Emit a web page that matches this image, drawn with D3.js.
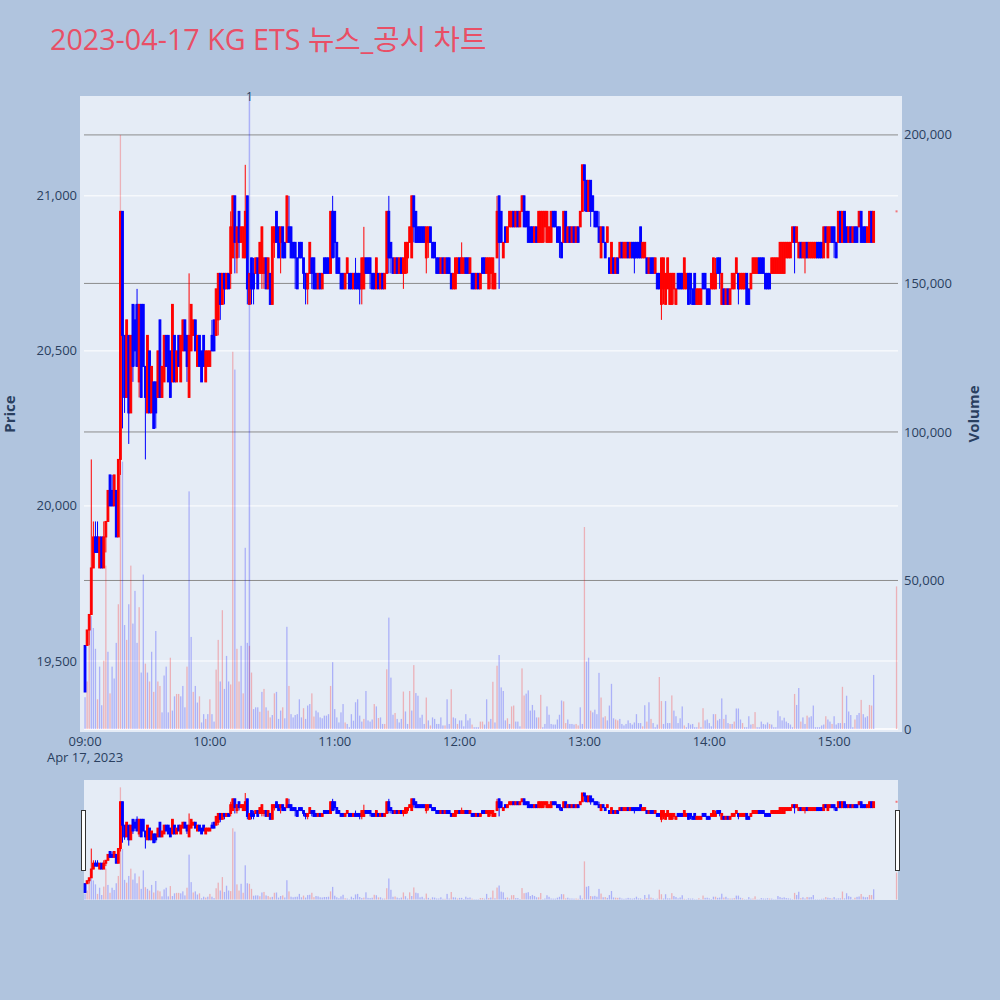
<!DOCTYPE html>
<html>
<head>
<meta charset="utf-8">
<title>KG ETS 뉴스_공시 차트</title>
<script src="https://cdn.jsdelivr.net/npm/d3@7"></script>
<style>
  body { margin: 0; background: #b0c4de; }
  text { font-family: "Open Sans", "Noto Sans CJK KR", sans-serif; }
</style>
</head>
<body>
<div id="chart"></div>
<script>
const tradeDate = "2023-04-17";
const startTime = "09:00";

// one-minute candles 09:00 .. 15:19 (index = minutes after 09:00)
const opens = [
  19550,19550,19600,19650,19800,19900,19900,19800,19900,19800,
  19900,19950,20100,20050,20000,20050,19900,20150,20950,20550,
  20350,20550,20300,20650,20600,20650,20400,20650,20650,20450,
  20300,20500,20300,20400,20400,20350,20600,20350,20400,20550,
  20550,20500,20400,20550,20400,20550,20400,20500,20600,20550,
  20350,20500,20550,20600,20450,20550,20500,20550,20400,20450,
  20450,20550,20600,20550,20600,20750,20650,20750,20700,20750,
  20750,20800,21000,20800,20950,20850,20800,20800,21000,20650,
  20800,20750,20750,20800,20750,20750,20750,20800,20700,20750,
  20650,20850,20950,20900,20850,20900,20850,20850,20900,20900,
  20850,20850,20800,20850,20850,20800,20750,20700,20750,20800,
  20800,20750,20700,20750,20700,20800,20800,20800,20750,20950,
  20950,20850,20800,20750,20750,20700,20750,20750,20750,20700,
  20750,20750,20750,20700,20700,20800,20800,20800,20750,20750,
  20700,20750,20700,20750,20700,20750,20950,20850,20800,20750,
  20800,20750,20800,20750,20750,20800,20850,20800,21000,20950,
  20900,20900,20900,20900,20800,20850,20900,20850,20850,20800,
  20800,20750,20800,20750,20800,20800,20750,20700,20700,20750,
  20800,20750,20750,20800,20800,20750,20750,20750,20700,20750,
  20700,20800,20800,20750,20700,20750,20700,20700,20800,21000,
  20950,20800,20900,20850,20900,20900,20950,20900,20950,20900,
  20950,21000,20950,20950,20900,20900,20850,20900,20850,20850,
  20850,20900,20850,20850,20850,20950,20950,20900,20900,20850,
  20850,20950,20850,20900,20850,20900,20850,20900,20900,20950,
  21100,21050,20950,21050,21000,20950,20950,20900,20800,20900,
  20850,20850,20800,20750,20800,20750,20800,20800,20850,20800,
  20800,20850,20800,20850,20850,20850,20850,20900,20800,20800,
  20800,20750,20800,20800,20750,20750,20750,20650,20700,20650,
  20700,20650,20650,20700,20650,20750,20750,20750,20700,20700,
  20750,20750,20700,20750,20650,20650,20650,20750,20750,20700,
  20700,20700,20700,20700,20800,20800,20650,20700,20650,20700,
  20650,20700,20700,20750,20750,20700,20700,20700,20750,20700,
  20700,20750,20750,20750,20800,20800,20800,20750,20750,20750,
  20750,20750,20750,20750,20750,20750,20750,20800,20800,20800,
  20850,20900,20850,20800,20850,20800,20800,20850,20800,20800,
  20800,20800,20850,20850,20850,20800,20900,20800,20850,20900,
  20900,20850,20850,20950,20850,20950,20900,20850,20900,20850,
  20900,20900,20900,20950,20900,20900,20850,20850,20950,20850
];
const highs = [
  19550,19600,19650,20150,19950,19950,19950,19900,19900,19950,
  19950,20050,20100,20100,20100,20050,20150,20950,20950,20550,
  20600,20550,20550,20650,20650,20700,20650,20650,20650,20450,
  20550,20500,20450,20400,20400,20500,20600,20450,20550,20550,
  20550,20500,20650,20550,20500,20550,20550,20600,20600,20550,
  20750,20650,20600,20600,20550,20550,20500,20550,20500,20500,
  20500,20600,20600,20700,20750,20750,20750,20750,20750,20750,
  20950,21000,21000,20900,20950,20900,20900,21100,21000,20750,
  20800,20800,20800,20800,20850,20900,20800,20800,20800,20750,
  20900,20900,20950,20900,20900,20900,20850,21000,21000,20900,
  20850,20850,20800,20850,20850,20800,20750,20750,20850,20800,
  20800,20750,20750,20750,20750,20800,20800,20800,20950,21000,
  20950,20850,20800,20750,20750,20750,20800,20750,20750,20750,
  20800,20750,20750,20800,20900,20800,20800,20800,20750,20750,
  20800,20750,20750,20750,20750,20950,21000,20850,20800,20800,
  20800,20800,20800,20800,20850,20850,20900,21000,21000,20950,
  20900,20900,20900,20900,20900,20900,20900,20850,20850,20800,
  20800,20800,20800,20800,20800,20800,20750,20750,20800,20800,
  20800,20850,20800,20800,20800,20800,20750,20750,20750,20750,
  20750,20800,20800,20800,20800,20800,20800,20750,21000,21000,
  20950,20850,20900,20900,20950,20950,20950,20950,20950,20950,
  21000,21000,20950,20950,20900,20900,20900,20900,20950,20950,
  20950,20950,20950,20900,20950,20950,20950,20900,20900,20850,
  20950,20950,20900,20900,20900,20900,20900,20900,20950,21100,
  21100,21050,21050,21050,21000,20950,20950,20950,20900,20900,
  20850,20900,20800,20850,20800,20800,20800,20850,20850,20850,
  20850,20850,20850,20850,20850,20850,20850,20900,20850,20850,
  20800,20800,20800,20800,20800,20750,20750,20800,20800,20750,
  20800,20750,20750,20750,20700,20750,20750,20750,20800,20750,
  20750,20750,20700,20750,20700,20700,20700,20750,20750,20700,
  20700,20750,20800,20800,20800,20800,20750,20700,20700,20700,
  20700,20750,20750,20800,20750,20750,20750,20750,20750,20700,
  20750,20800,20800,20800,20800,20800,20800,20750,20750,20750,
  20800,20800,20800,20800,20850,20850,20850,20850,20850,20850,
  20900,20900,20900,20850,20850,20850,20850,20850,20850,20850,
  20850,20850,20850,20850,20850,20900,20900,20900,20900,20900,
  20900,20850,20950,20950,20950,20950,20900,20900,20900,20900,
  20900,20900,20950,20950,20900,20900,20900,20950,20950,20950
];
const lows = [
  19400,19550,19550,19650,19800,19850,19850,19800,19800,19800,
  19850,19950,20000,20000,20000,19900,19900,20100,20250,20300,
  20350,20200,20300,20400,20450,20450,20350,20350,20450,20150,
  20300,20300,20300,20250,20250,20350,20350,20350,20400,20450,
  20400,20350,20400,20400,20400,20450,20400,20500,20500,20400,
  20350,20500,20550,20500,20450,20450,20400,20450,20400,20450,
  20450,20500,20500,20550,20550,20600,20650,20650,20700,20700,
  20700,20800,20750,20750,20800,20850,20800,20800,20650,20650,
  20650,20650,20750,20700,20750,20700,20700,20700,20700,20650,
  20650,20800,20850,20800,20750,20800,20800,20850,20850,20800,
  20800,20700,20700,20800,20800,20700,20650,20650,20750,20700,
  20700,20700,20700,20700,20700,20750,20750,20750,20750,20800,
  20800,20750,20750,20700,20700,20700,20750,20700,20700,20700,
  20700,20700,20650,20650,20700,20750,20750,20700,20700,20700,
  20700,20700,20700,20700,20700,20750,20750,20750,20750,20750,
  20750,20750,20750,20700,20750,20750,20850,20800,20850,20850,
  20850,20850,20850,20850,20750,20800,20850,20800,20800,20750,
  20750,20750,20750,20750,20750,20750,20700,20700,20700,20750,
  20750,20750,20750,20750,20750,20750,20700,20700,20700,20700,
  20700,20750,20750,20750,20700,20700,20700,20700,20800,20700,
  20850,20800,20850,20850,20900,20900,20900,20900,20900,20900,
  20950,20900,20900,20850,20850,20850,20850,20850,20850,20850,
  20850,20850,20850,20850,20850,20900,20900,20850,20800,20800,
  20850,20850,20850,20850,20850,20850,20850,20850,20900,20950,
  20950,20950,20950,20900,20950,20900,20900,20850,20800,20850,
  20800,20850,20750,20750,20750,20750,20750,20800,20800,20800,
  20800,20800,20800,20800,20750,20800,20800,20800,20800,20800,
  20750,20750,20750,20750,20750,20700,20700,20600,20650,20650,
  20700,20650,20650,20650,20650,20700,20700,20700,20700,20700,
  20650,20650,20650,20650,20650,20650,20650,20700,20700,20650,
  20650,20700,20700,20700,20750,20700,20650,20650,20650,20650,
  20650,20700,20700,20750,20650,20700,20700,20700,20650,20650,
  20700,20750,20750,20750,20750,20750,20750,20700,20700,20700,
  20750,20750,20750,20750,20750,20750,20750,20800,20800,20800,
  20850,20750,20850,20800,20800,20800,20750,20800,20800,20800,
  20800,20800,20800,20800,20800,20800,20850,20800,20850,20850,
  20800,20800,20850,20850,20850,20850,20850,20850,20850,20850,
  20850,20850,20900,20850,20850,20850,20850,20850,20850,20850
];
const closes = [
  19400,19600,19650,19800,19900,19850,19850,19900,19800,19900,
  19950,20050,20000,20000,20100,19900,20150,20950,20550,20350,
  20600,20300,20550,20450,20500,20450,20650,20350,20450,20350,
  20550,20300,20450,20250,20300,20500,20350,20450,20550,20450,
  20400,20350,20650,20400,20500,20450,20550,20600,20500,20450,
  20550,20650,20600,20500,20550,20450,20400,20450,20500,20500,
  20500,20500,20500,20700,20750,20650,20750,20700,20750,20700,
  20900,21000,20850,20900,20850,20900,20900,20950,20700,20750,
  20700,20700,20800,20700,20850,20900,20800,20700,20800,20650,
  20900,20900,20850,20800,20900,20800,20800,21000,20850,20800,
  20800,20800,20700,20800,20800,20750,20700,20750,20850,20750,
  20700,20700,20750,20700,20750,20750,20750,20750,20950,20800,
  20850,20750,20750,20700,20700,20750,20800,20700,20700,20750,
  20700,20700,20700,20800,20800,20750,20750,20750,20700,20700,
  20800,20700,20750,20700,20750,20950,20800,20800,20750,20800,
  20750,20800,20750,20800,20850,20850,20900,21000,20900,20850,
  20850,20850,20850,20850,20900,20900,20850,20800,20800,20750,
  20750,20800,20750,20800,20750,20750,20700,20750,20800,20800,
  20750,20800,20800,20750,20750,20800,20700,20700,20750,20700,
  20750,20750,20750,20800,20800,20800,20800,20750,20950,20850,
  20850,20850,20850,20900,20950,20950,20900,20950,20900,20950,
  21000,20900,20900,20850,20850,20850,20900,20850,20950,20950,
  20950,20950,20950,20900,20950,20900,20900,20850,20850,20800,
  20950,20850,20900,20850,20900,20850,20900,20850,20950,21100,
  21050,20950,21050,20950,20950,20900,20900,20850,20900,20850,
  20800,20900,20750,20850,20750,20800,20750,20850,20800,20850,
  20850,20800,20850,20800,20800,20800,20800,20800,20850,20850,
  20750,20800,20750,20750,20800,20700,20700,20800,20800,20750,
  20800,20750,20750,20750,20700,20700,20700,20700,20800,20750,
  20650,20700,20650,20650,20700,20700,20700,20700,20700,20650,
  20650,20750,20800,20750,20750,20750,20750,20650,20700,20650,
  20700,20750,20750,20800,20700,20750,20750,20750,20650,20650,
  20750,20800,20800,20800,20750,20750,20750,20700,20700,20700,
  20800,20800,20800,20800,20850,20850,20850,20850,20850,20850,
  20900,20850,20900,20850,20800,20850,20850,20800,20850,20850,
  20850,20850,20800,20800,20800,20900,20850,20900,20900,20850,
  20850,20800,20950,20850,20950,20850,20850,20900,20850,20900,
  20850,20850,20950,20850,20850,20850,20900,20950,20850,20950
];
const volumes = [
  10700,16000,28000,38000,34000,27000,10000,21000,8000,23000,
  55000,26000,12000,21000,17000,29000,42000,200000,90000,35000,
  30000,42000,55000,35500,46500,29000,41000,19000,52000,22000,
  19000,16000,26000,12500,33000,16000,14500,5600,18000,21000,
  5600,24000,6200,11000,11800,11800,11000,14500,7300,21000,
  80000,31000,12500,14500,8900,11000,2200,5000,3400,5000,
  10000,5000,2500,20000,30000,16000,40000,13500,24600,16000,
  15000,127000,121000,27000,16000,28000,12000,61000,29000,28000,
  19000,6700,7300,7300,5800,12500,13500,7300,6200,3900,
  4700,12000,12500,3400,6200,7300,3600,34400,14500,5000,
  3900,4700,5000,10000,3900,7000,3400,7900,8400,12000,
  4200,6200,5600,3900,3600,4500,4500,5000,14500,22500,
  6700,3900,2200,5600,8400,2200,1700,600,5000,2800,
  9000,10000,4500,2500,3400,12800,2900,2500,3200,8400,
  7600,3700,3900,1700,1700,20100,37500,17300,4800,5400,
  3400,2200,3400,12600,5900,1700,12800,6200,21500,12100,
  11200,3800,4800,1700,10600,2900,1200,3900,3400,1700,
  1700,3900,1200,1200,10000,1700,13400,3900,3600,1700,
  2900,2900,900,5000,2900,3600,1500,600,600,600,
  2500,2500,1500,10000,2500,3400,15900,2200,21300,24900,
  14000,12800,2900,3600,1700,7600,7900,2500,2500,900,
  20400,11300,11900,13000,6200,8100,6300,3900,3900,11500,
  600,1700,7600,4800,1700,1500,1500,3200,4800,9600,
  9300,2000,3200,1700,1700,1500,1700,1200,7300,1700,
  68000,22700,24000,6200,5600,6500,5000,18900,10600,3900,
  4300,2900,7900,15200,3600,3200,2900,3400,1700,1200,
  1700,2900,2000,1500,2200,5000,2000,2000,900,8000,
  2500,9000,3400,2000,600,1500,17500,9400,1700,9400,
  2000,2000,11300,6200,4300,2000,3600,7600,1200,600,
  2000,1500,1700,600,600,2200,600,7000,2900,3200,
  2000,900,5000,5000,2900,3400,10300,3400,4800,2000,
  1700,1700,2500,6900,6900,3200,2000,600,600,4300,
  1500,1700,5700,600,600,2500,1700,1500,2200,1700,
  1500,600,600,6200,4300,2900,3800,2500,2000,1500,
  600,11800,8100,13800,2500,3900,1700,4500,3900,4300,
  7900,600,600,600,1200,1500,4300,3200,2500,1700,
  4300,1500,2000,2000,14200,2000,11200,5900,4700,600,
  3200,4700,5400,9800,5000,3900,4300,8100,7900,18200
];
// 1 = buy-side bar (red), -1 = sell-side bar (blue)
const volumeSide = [
  -1,1,1,-1,-1,-1,1,-1,-1,1,
  1,-1,1,-1,-1,-1,1,1,-1,-1,
  1,-1,1,-1,-1,-1,1,-1,-1,1,
  -1,1,-1,1,-1,1,1,-1,-1,-1,
  -1,1,-1,-1,1,1,-1,-1,-1,1,
  -1,-1,1,-1,-1,1,-1,-1,1,-1,
  1,-1,-1,1,1,-1,1,-1,-1,-1,
  1,1,-1,1,1,-1,1,-1,-1,1,
  1,-1,-1,-1,1,-1,1,-1,1,1,
  -1,1,-1,-1,-1,1,-1,-1,1,-1,
  -1,-1,-1,-1,-1,1,-1,-1,-1,1,
  1,-1,-1,-1,-1,-1,-1,-1,1,-1,
  -1,-1,-1,-1,-1,1,-1,-1,-1,-1,
  -1,-1,-1,-1,1,-1,-1,-1,-1,1,
  -1,1,-1,-1,1,1,-1,-1,-1,1,
  -1,-1,-1,1,-1,-1,1,-1,1,-1,
  -1,-1,-1,-1,1,-1,1,-1,-1,-1,
  -1,-1,-1,1,-1,-1,1,-1,-1,1,
  -1,-1,-1,-1,-1,-1,1,-1,-1,-1,
  1,1,-1,-1,1,-1,1,-1,1,-1,
  -1,-1,-1,1,-1,1,1,-1,-1,-1,
  1,1,-1,-1,-1,-1,-1,-1,1,1,
  -1,-1,-1,-1,-1,-1,-1,-1,-1,-1,
  1,1,-1,-1,-1,-1,1,1,-1,-1,
  1,-1,-1,1,-1,-1,-1,-1,1,-1,
  1,-1,-1,-1,-1,1,1,-1,-1,-1,
  -1,-1,-1,-1,-1,-1,-1,-1,1,-1,
  1,-1,1,-1,-1,-1,1,1,-1,-1,
  -1,-1,1,-1,-1,-1,-1,-1,1,-1,
  -1,-1,-1,-1,-1,1,-1,1,-1,-1,
  -1,-1,-1,1,-1,-1,-1,1,-1,-1,
  1,-1,1,-1,-1,-1,1,-1,-1,-1,
  -1,1,1,-1,-1,-1,-1,-1,-1,1,
  -1,-1,-1,-1,-1,-1,-1,-1,-1,-1,
  -1,1,-1,-1,1,-1,-1,1,-1,-1,
  -1,-1,-1,-1,-1,-1,1,-1,-1,1,
  -1,-1,-1,-1,1,-1,-1,-1,-1,-1,
  1,-1,-1,1,-1,-1,-1,1,1,-1
];
// closing single-price auction
const auctionTime = "15:30";
const auctionPrice = 20950;
const auctionVolume = 48000;

const newsTimes = ["10:19"];
const newsLabels = ["1"];

const priceTicks = [19500, 20000, 20500, 21000];
const volumeTicks = [0, 50000, 100000, 150000, 200000];
const hourTicks = ["09:00", "10:00", "11:00", "12:00", "13:00", "14:00", "15:00"];

const parseT = d3.timeParse("%Y-%m-%d %H:%M:%S");
const at = s => parseT(`${tradeDate} ${s.length == 5 ? s + ":00" : s}`);
const t0 = at(startTime);

const candles = opens.map((o, i) => ({
    t: d3.timeMinute.offset(t0, i), o: o, h: highs[i], l: lows[i], c: closes[i],
    v: volumes[i], side: volumeSide[i]
}));
candles.push({ t: at(auctionTime), o: auctionPrice, h: auctionPrice, l: auctionPrice, c: auctionPrice, v: auctionVolume, side: 1 });

const W = 1000, H = 1000;
const plot = { left: 84, right: 898, top: 96, bottom: 732 };
const slider = { top: 780, bottom: 900 };
const textCol = "#2a3f5f";

const svg = d3.select("#chart").append("svg")
    .attr("width", W).attr("height", H);

svg.append("rect").attr("width", W).attr("height", H).attr("fill", "#b0c4de");

svg.append("text")
    .attr("x", 50).attr("y", 50)
    .attr("font-size", 28.7)
    .attr("fill", "#e94f66")
    .text(`${tradeDate} KG ETS 뉴스_공시 차트`);

const x = d3.scaleTime()
    .domain([at("08:59:30"), at("15:30:42")])
    .range([plot.left, plot.right]);

const priceDomain = [19271, 21322];
const volDomain = [0, 213100];

const yP = d3.scaleLinear().domain(priceDomain).range([plot.bottom, plot.top]);
const yV = d3.scaleLinear().domain(volDomain).range([plot.bottom - 3, plot.top]);

// main plot background
svg.append("rect")
    .attr("x", 80).attr("y", plot.top)
    .attr("width", 902 - 80).attr("height", plot.bottom - plot.top)
    .attr("fill", "#e5ecf6");

// grid: price (white) and volume (gray)
svg.append("g").selectAll("line").data(priceTicks).join("line")
    .attr("x1", plot.left).attr("x2", plot.right)
    .attr("y1", d => yP(d)).attr("y2", d => yP(d))
    .attr("stroke", "#fff").attr("stroke-width", 1);
svg.append("g").selectAll("line").data(volumeTicks.filter(d => d > 0)).join("line")
    .attr("x1", plot.left).attr("x2", plot.right)
    .attr("y1", d => yV(d)).attr("y2", d => yV(d))
    .attr("stroke", "#8c8c8c").attr("stroke-width", 1);
svg.append("line")
    .attr("x1", plot.left).attr("x2", plot.right)
    .attr("y1", yV(0)).attr("y2", yV(0))
    .attr("stroke", "#fff").attr("stroke-width", 1.5);

function drawMarks(g, yPrice, yVol) {
    g.append("g").selectAll("rect").data(candles).join("rect")
        .attr("x", d => x(d.t) - 0.65)
        .attr("width", 1.3)
        .attr("y", d => yVol(d.v))
        .attr("height", d => yVol(0) - yVol(d.v))
        .attr("fill", d => d.side > 0 ? "red" : "blue")
        .attr("opacity", 0.25);

    const real = candles.filter(d => d.o != d.c);
    const col = d => d.c > d.o ? "#ff0000" : "#0000ff";
    g.append("g").selectAll("line").data(real).join("line")
        .attr("x1", d => x(d.t)).attr("x2", d => x(d.t))
        .attr("y1", d => yPrice(d.h)).attr("y2", d => yPrice(d.l))
        .attr("stroke", col).attr("stroke-width", 1);
    g.append("g").selectAll("rect").data(real).join("rect")
        .attr("x", d => x(d.t) - 0.9)
        .attr("width", 1.8)
        .attr("y", d => yPrice(Math.max(d.o, d.c)))
        .attr("height", d => Math.abs(yPrice(d.o) - yPrice(d.c)))
        .attr("fill", col).attr("stroke", col).attr("stroke-width", 1);

    // flat (auction) candle
    g.append("g").selectAll("rect").data(candles.filter(d => d.o == d.c)).join("rect")
        .attr("x", d => x(d.t) - 1).attr("width", 2)
        .attr("y", d => yPrice(d.c) - 1).attr("height", 2)
        .attr("fill", "red").attr("opacity", 0.5);
}

drawMarks(svg.append("g"), yP, yV);

// news markers
newsTimes.forEach((s, i) => {
    const nx = x(at(s));
    svg.append("line")
        .attr("x1", nx).attr("x2", nx)
        .attr("y1", plot.top).attr("y2", yV(0))
        .attr("stroke", "blue").attr("stroke-opacity", 0.25).attr("stroke-width", 1.5);
    svg.append("text")
        .attr("x", nx).attr("y", 101)
        .attr("text-anchor", "middle").attr("font-size", 12)
        .attr("fill", textCol).text(newsLabels[i]);
});

// axes labels
const fmt = d3.format(",");
svg.append("g").selectAll("text").data(priceTicks).join("text")
    .attr("x", 77).attr("y", d => yP(d)).attr("dy", "0.35em")
    .attr("text-anchor", "end").attr("font-size", 13).attr("fill", textCol)
    .text(d => fmt(d));
svg.append("g").selectAll("text").data(volumeTicks).join("text")
    .attr("x", 904).attr("y", d => yV(d)).attr("dy", "0.35em")
    .attr("text-anchor", "start").attr("font-size", 13).attr("fill", textCol)
    .text(d => fmt(d));
svg.append("g").selectAll("text").data(hourTicks).join("text")
    .attr("x", d => x(at(d))).attr("y", 746)
    .attr("text-anchor", "middle").attr("font-size", 13).attr("fill", textCol)
    .text(d => d);
svg.append("text")
    .attr("x", x(at(hourTicks[0]))).attr("y", 762)
    .attr("text-anchor", "middle").attr("font-size", 13).attr("fill", textCol)
    .text(d3.timeFormat("%b %-d, %Y")(t0));

svg.append("text")
    .attr("transform", "translate(14.5,414) rotate(-90)")
    .attr("text-anchor", "middle").attr("font-size", 15).attr("font-weight", "bold")
    .attr("fill", textCol).text("Price");
svg.append("text")
    .attr("transform", "translate(978.5,414) rotate(-90)")
    .attr("text-anchor", "middle").attr("font-size", 15).attr("font-weight", "bold")
    .attr("fill", textCol).text("Volume");

// range slider
svg.append("rect")
    .attr("x", plot.left).attr("y", slider.top)
    .attr("width", plot.right - plot.left).attr("height", slider.bottom - slider.top)
    .attr("fill", "#e5ecf6");
const ySP = d3.scaleLinear().domain(priceDomain).range([slider.bottom, slider.top]);
const ySV = d3.scaleLinear().domain(volDomain).range([slider.bottom - 0.5, slider.top]);
drawMarks(svg.append("g"), ySP, ySV);

[plot.left - 2, plot.right - 2].forEach(hx => {
    svg.append("rect")
        .attr("x", hx - 0.5).attr("y", 810.5)
        .attr("width", 4).attr("height", 60)
        .attr("fill", "#fff").attr("stroke", "#333").attr("stroke-width", 1);
});
</script>
</body>
</html>
